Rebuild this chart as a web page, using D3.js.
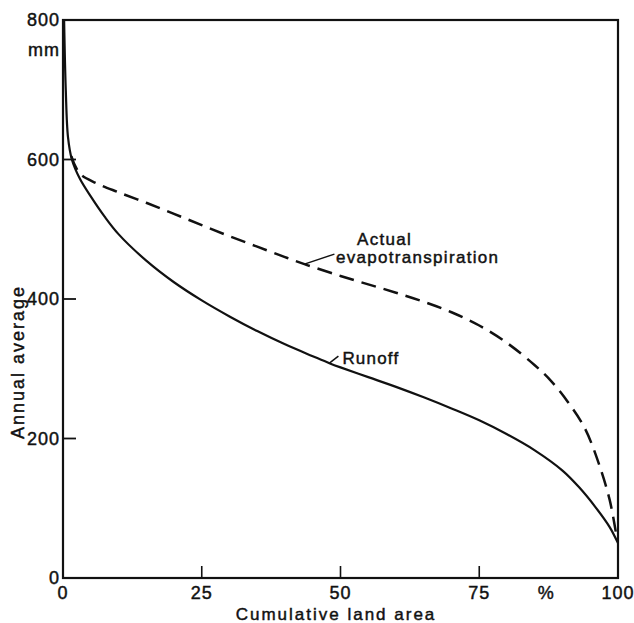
<!DOCTYPE html>
<html>
<head>
<meta charset="utf-8">
<script src="https://cdnjs.cloudflare.com/ajax/libs/d3/7.8.5/d3.min.js"></script>
<style>
  html, body { margin: 0; padding: 0; background: #fff; }
  svg text { font-family: "Liberation Sans", Arial, sans-serif; fill: #111; stroke: #111; stroke-width: 0.45px; }
</style>
</head>
<body>
<svg id="chart" width="634" height="623"></svg>
<script>
// Cumulative land area (%) vs annual average depth (mm)
const runoffX = [0.2, 0.5, 0.9, 1.6, 3, 5, 7.5, 10, 15, 20, 25, 30, 35, 40, 45, 48, 50, 55, 60, 65, 70, 75, 80, 85, 90, 93, 96, 98.5, 100];
const runoffY = [800, 700, 632, 600, 573, 547, 518, 493, 455, 424, 398, 375, 354, 335, 318, 308, 302, 288, 274, 259, 243, 226, 206, 183, 154, 130, 101, 73, 50];

const etX = [1.5, 3, 6, 10, 15, 20, 25, 30, 35, 40, 43.5, 45, 50, 55, 60, 65, 70, 75, 80, 85, 88, 91, 94, 96.5, 98.5, 99.6];
const etY = [605, 580, 566, 553, 538, 522, 506, 490, 475, 460, 450, 446, 433, 421, 409, 396, 381, 362, 337, 305, 282, 252, 215, 165, 112, 66];

const xTicks = [0, 25, 50, 75, 100];
const yTicks = [0, 200, 400, 600, 800];

const svg = d3.select("#chart");
const x = d3.scaleLinear().domain([0, 100]).range([63, 618]);
const y = d3.scaleLinear().domain([0, 800]).range([578, 20]);

// frame
svg.append("rect")
  .attr("x", x(0)).attr("y", y(800))
  .attr("width", x(100) - x(0)).attr("height", y(0) - y(800))
  .attr("fill", "none").attr("stroke", "#111").attr("stroke-width", 2.2);

// inward ticks
svg.selectAll(".xt").data(xTicks.filter(d => d > 0 && d < 100)).join("line")
  .attr("x1", d => x(d)).attr("x2", d => x(d))
  .attr("y1", y(0)).attr("y2", y(0) - 12)
  .attr("stroke", "#111").attr("stroke-width", 1.6);
svg.selectAll(".yt").data(yTicks.filter(d => d > 0 && d < 800)).join("line")
  .attr("x1", x(0)).attr("x2", x(0) + 13)
  .attr("y1", d => y(d)).attr("y2", d => y(d))
  .attr("stroke", "#111").attr("stroke-width", 1.8);

// tick labels
svg.selectAll(".xl").data(xTicks).join("text")
  .attr("x", d => x(d)).attr("y", 599)
  .attr("text-anchor", "middle").attr("font-size", 18).attr("letter-spacing", 1)
  .text(d => d);
svg.append("text").attr("x", x(87)).attr("y", 599)
  .attr("text-anchor", "middle").attr("font-size", 18).text("%");
svg.selectAll(".yl").data(yTicks).join("text")
  .attr("x", 60).attr("y", d => y(d) + 6)
  .attr("text-anchor", "end").attr("font-size", 18).attr("letter-spacing", 1)
  .text(d => d);
svg.append("text").attr("x", 60).attr("y", 56)
  .attr("text-anchor", "end").attr("font-size", 18).attr("letter-spacing", 1).text("mm");

// axis titles
svg.append("text").attr("x", 336).attr("y", 620)
  .attr("text-anchor", "middle").attr("font-size", 17).attr("letter-spacing", 2)
  .text("Cumulative land area");
svg.append("text")
  .attr("transform", "translate(24,362) rotate(-90)")
  .attr("text-anchor", "middle").attr("font-size", 18).attr("letter-spacing", 2)
  .text("Annual average");

const line = d3.line().x(d => x(d[0])).y(d => y(d[1])).curve(d3.curveCatmullRom.alpha(0.5));

svg.append("path")
  .datum(d3.zip(runoffX, runoffY))
  .attr("d", line)
  .attr("fill", "none").attr("stroke", "#111").attr("stroke-width", 2.2);

svg.append("path")
  .datum(d3.zip(etX, etY))
  .attr("d", line)
  .attr("fill", "none").attr("stroke", "#111").attr("stroke-width", 2.5)
  .attr("stroke-dasharray", "15,8");

// annotations with leaders
const ri = runoffX.indexOf(48), rx = runoffX[ri], ry = runoffY[ri];
svg.append("line")
  .attr("x1", x(rx)).attr("y1", y(ry)).attr("x2", x(rx) + 9).attr("y2", y(ry) - 7)
  .attr("stroke", "#111").attr("stroke-width", 1.5);
svg.append("text").attr("x", x(rx) + 13).attr("y", y(ry) + 1)
  .attr("font-size", 17).attr("letter-spacing", 1.2).text("Runoff");

const ei = etX.indexOf(43.5), ex = etX[ei], ey = etY[ei];
svg.append("line")
  .attr("x1", x(ex)).attr("y1", y(ey)).attr("x2", x(ex) + 30).attr("y2", y(ey) - 10)
  .attr("stroke", "#111").attr("stroke-width", 1.5);
svg.append("text").attr("x", 357).attr("y", 245)
  .attr("font-size", 17).attr("letter-spacing", 1.3).text("Actual");
svg.append("text").attr("x", 336).attr("y", 263)
  .attr("font-size", 17).attr("letter-spacing", 1.3).text("evapotranspiration");
</script>
</body>
</html>
